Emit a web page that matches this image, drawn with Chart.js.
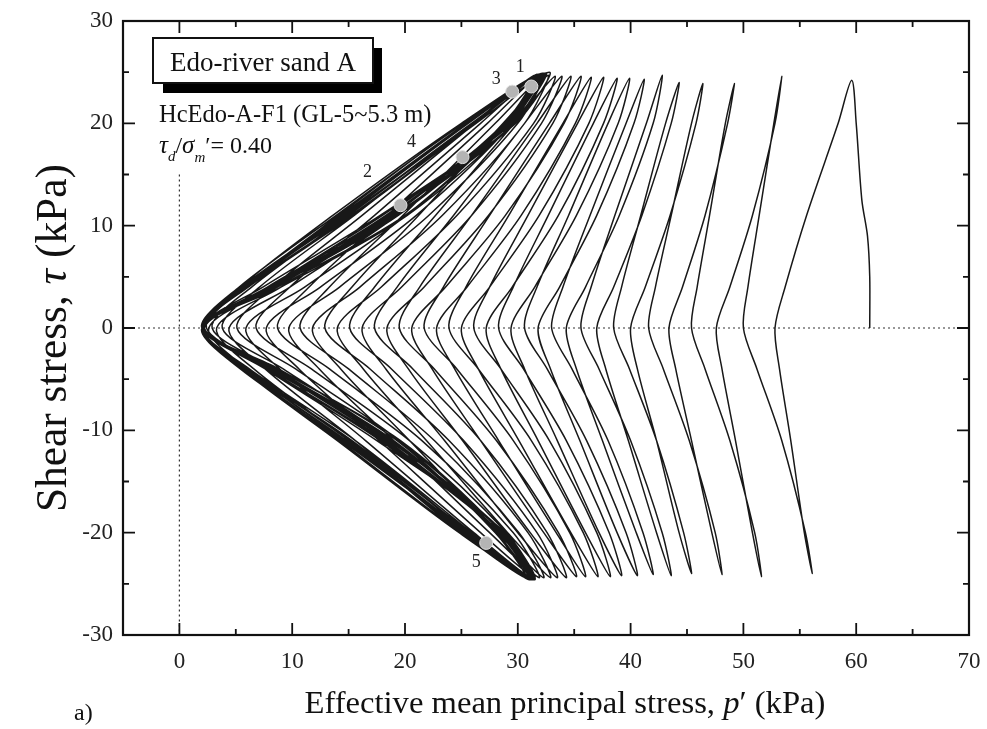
<!DOCTYPE html>
<html>
<head>
<meta charset="utf-8">
<script src="https://cdn.jsdelivr.net/npm/chart.js@4.4.1/dist/chart.umd.min.js"></script>
<style>
  html, body { margin: 0; padding: 0; background: #fff; }
  #wrap { width: 987px; height: 729px; }
</style>
</head>
<body>
<div id="wrap"><canvas id="stress-path-chart" width="987" height="729"></canvas></div>
<script>
// first loading, p' and tau (kPa)
const initP = [61.2, 61.2, 61.0, 60.5, 60.0, 59.6]
const initTau = [0, 5, 9, 12.5, 20, 24.2]

// each half cycle: p' read at tau = +-20, +-11, +-4, 0, -+4, -+11, -+20, then end peak p' and |tau| at that peak
// down half cycles start at the top peak, up half cycles at the bottom peak (they alternate)
const tauLevels = [20, 11, 4, 0, -4, -11, -20]

const earlyCycles = [
  [58.4, 55.6, 53.7, 52.8, 53.2, 54.2, 55.4, 56.1, 24.0],
  [55.5, 53.4, 51.2, 50.0, 50.4, 51.4, 52.7, 53.4, 24.6],
  [52.8, 50.8, 48.8, 47.6, 48.1, 49.3, 50.8, 51.6, 24.3],
  [51.0, 48.8, 46.6, 45.4, 45.9, 47.0, 48.4, 49.2, 23.9],
  [48.6, 46.6, 44.6, 43.4, 44.0, 45.4, 47.2, 48.1, 24.1],
  [47.5, 45.2, 42.9, 41.6, 42.2, 43.6, 45.4, 46.4, 23.9],
  [45.8, 43.5, 41.3, 40.0, 40.6, 42.3, 44.3, 45.4, 24.0],
  [44.7, 42.3, 39.9, 38.5, 39.2, 40.9, 43.1, 44.3, 24.0],
  [43.6, 41.0, 38.5, 37.0, 37.8, 39.8, 42.3, 43.6, 24.2],
  [42.8, 40.0, 37.2, 35.6, 36.5, 38.6, 41.4, 42.8, 24.7]
]

const midCycles = [
  [42.0, 39.0, 36.0, 34.3, 35.2, 37.5, 40.5, 42.0, 24.1],
  [41.1, 38.0, 34.8, 33.0, 34.0, 36.4, 39.6, 41.2, 24.3],
  [40.3, 37.0, 33.7, 31.8, 32.9, 35.5, 38.8, 40.6, 24.2],
  [39.6, 36.1, 32.6, 30.6, 31.7, 34.5, 38.0, 39.9, 24.4],
  [38.9, 35.2, 31.5, 29.4, 30.6, 33.5, 37.2, 39.2, 24.2],
  [38.1, 34.3, 30.5, 28.3, 29.6, 32.7, 36.7, 38.8, 24.4],
  [37.6, 33.6, 29.5, 27.2, 28.5, 31.8, 36.0, 38.2, 24.3],
  [37.0, 32.8, 28.5, 26.1, 27.5, 30.9, 35.3, 37.6, 24.5],
  [36.3, 31.9, 27.5, 25.0, 26.5, 30.1, 34.7, 37.1, 24.3],
  [35.8, 31.2, 26.5, 23.9, 25.4, 29.2, 34.0, 36.5, 24.5],
  [35.1, 30.3, 25.5, 22.8, 24.4, 28.3, 33.4, 36.0, 24.3],
  [34.6, 29.6, 24.6, 21.7, 23.4, 27.5, 32.8, 35.6, 24.6],
  [34.1, 28.9, 23.6, 20.6, 22.4, 26.7, 32.3, 35.2, 24.3],
  [33.6, 28.1, 22.6, 19.5, 21.3, 25.9, 31.7, 34.7, 24.6],
  [33.1, 27.4, 21.7, 18.4, 20.3, 25.1, 31.1, 34.3, 24.4],
  [32.6, 26.7, 20.7, 17.3, 19.3, 24.3, 30.6, 33.9, 24.6],
  [32.1, 25.9, 19.7, 16.2, 18.3, 23.5, 30.0, 33.5, 24.4],
  [31.7, 25.2, 18.8, 15.1, 17.3, 22.7, 29.7, 33.3, 24.6],
  [31.4, 24.6, 17.9, 14.0, 16.3, 21.9, 29.1, 32.9, 24.4],
  [30.9, 23.9, 16.9, 12.9, 15.3, 21.2, 28.7, 32.7, 24.7],
  [30.6, 23.3, 16.0, 11.8, 14.3, 20.4, 28.2, 32.3, 24.4],
  [30.1, 22.6, 15.0, 10.7, 13.3, 19.8, 28.0, 32.3, 24.7]
]

const lateCycles = [
  [30.0, 22.1, 14.2, 9.7, 12.4, 19.0, 27.5, 31.9, 24.4],
  [29.6, 21.5, 13.3, 8.7, 11.5, 18.4, 27.3, 31.9, 24.7],
  [29.5, 21.0, 12.5, 7.7, 10.6, 17.7, 26.7, 31.5, 24.4],
  [29.0, 20.4, 11.7, 6.8, 9.8, 17.3, 26.7, 31.7, 24.7],
  [29.1, 20.1, 11.1, 5.9, 8.9, 16.5, 26.1, 31.2, 24.4],
  [28.6, 19.5, 10.3, 5.1, 8.3, 16.2, 26.2, 31.5, 24.7],
  [28.8, 19.3, 9.8, 4.4, 7.6, 15.6, 25.7, 31.0, 24.4],
  [28.3, 18.8, 9.2, 3.8, 7.1, 15.5, 26.0, 31.6, 24.7],
  [28.8, 18.9, 9.0, 3.3, 6.6, 15.0, 25.5, 31.1, 24.4],
  [28.3, 18.4, 8.5, 2.9, 6.4, 15.0, 26.0, 31.8, 24.8],
  [28.9, 18.7, 8.4, 2.6, 6.0, 14.6, 25.5, 31.2, 24.5],
  [28.3, 18.2, 8.2, 2.4, 5.9, 14.8, 26.1, 32.0, 24.8],
  [29.0, 18.6, 8.2, 2.2, 5.7, 14.4, 25.5, 31.3, 24.5],
  [28.6, 19.6, 8.6, 2.1, 5.4, 13.6, 25.0, 32.2, 24.9],
  [29.5, 17.8, 7.4, 2.0, 5.9, 15.3, 25.6, 31.0, 24.6],
  [28.4, 18.9, 8.3, 2.2, 6.0, 15.2, 26.3, 32.5, 24.9],
  [29.6, 20.2, 9.0, 2.0, 5.5, 14.0, 24.8, 31.4, 24.6],
  [28.9, 17.5, 7.6, 2.1, 5.7, 14.3, 25.4, 31.9, 24.8],
  [29.0, 18.3, 8.0, 2.1, 6.2, 15.6, 25.9, 30.8, 24.5],
  [28.0, 19.3, 8.8, 2.0, 5.3, 13.9, 25.2, 32.8, 25.0],
  [29.8, 19.0, 8.1, 2.2, 5.8, 14.8, 25.2, 31.2, 24.6],
  [28.5, 18.0, 7.8, 2.0, 5.6, 14.6, 25.6, 32.0, 24.8],
  [29.2, 20.0, 8.7, 2.1, 6.0, 15.0, 25.0, 31.3, 24.5],
  [28.7, 18.6, 8.0, 2.1, 5.8, 14.1, 25.1, 32.4, 24.9],
  [29.4, 18.0, 7.9, 2.0, 5.4, 14.5, 25.4, 31.0, 24.6],
  [28.1, 19.0, 8.4, 2.2, 6.1, 15.4, 26.2, 31.7, 24.8],
  [29.0, 19.4, 8.5, 2.1, 5.6, 14.2, 24.9, 30.9, 24.5],
  [28.4, 17.8, 7.7, 2.0, 5.5, 14.5, 25.5, 32.3, 24.9],
  [29.7, 18.5, 7.8, 2.1, 6.1, 15.1, 25.8, 31.5, 24.6],
  [28.8, 18.8, 8.1, 2.1, 5.7, 14.9, 25.9, 32.1, 24.8],
  [29.3, 19.2, 8.3, 2.2, 5.9, 14.7, 25.3, 31.1, 24.5]
]

// marked states 1..5 on the path
const markerLabels = ['1', '2', '3', '4', '5']
const markerP = [31.2, 19.6, 29.5, 25.1, 27.2]
const markerTau = [23.6, 12.0, 23.1, 16.7, -21.0]

// dotted reference lines
const zeroTauLine = [[-5, 0], [70, 0]]
const zeroPLine = [[0, 15], [0, -30]]

const serif = "'Liberation Serif', 'Times New Roman', serif"

let pathPoints = initP.map((p, i) => ({x: p, y: initTau[i]}))
earlyCycles.concat(midCycles, lateCycles).forEach((row, k) => {
  let s = k % 2 === 0 ? 1 : -1
  tauLevels.forEach((t, j) => pathPoints.push({x: row[j], y: s * t}))
  pathPoints.push({x: row[7], y: -s * row[8]})
})

let markerPoints = markerP.map((p, i) => ({x: p, y: markerTau[i]}))
let labelOffsets = [[-11, -19], [-33, -33], [-16, -12], [-51, -15], [-10, 19]]

// text fitted to a given width, centred on cx
function richText(ctx, parts, cx, baseY, size, width) {
  const fontOf = p => `${p.italic ? 'italic ' : ''}${size}px ${serif}`
  let w = 0
  parts.forEach(p => { ctx.font = fontOf(p); w += ctx.measureText(p.text).width })
  if (width) {
    size = size * width / w
    w = width
  }
  let xx = cx - w / 2
  parts.forEach(p => {
    ctx.font = fontOf(p)
    ctx.fillText(p.text, xx, baseY)
    xx += ctx.measureText(p.text).width
  })
}

const framePlugin = {
  id: 'frame',
  afterDraw(chart) {
    const {ctx, chartArea: a, scales: {x, y}} = chart
    ctx.save()

    // ticks pointing inwards on all four sides
    ctx.strokeStyle = '#111'
    ctx.lineWidth = 1.8
    ctx.beginPath()
    x.ticks.forEach(t => {
      if (t.value <= x.min || t.value >= x.max) return
      let px = x.getPixelForValue(t.value)
      let len = t.value % 10 === 0 ? 12 : 6
      ctx.moveTo(px, a.bottom); ctx.lineTo(px, a.bottom - len)
      ctx.moveTo(px, a.top); ctx.lineTo(px, a.top + len)
    })
    y.ticks.forEach(t => {
      if (t.value <= y.min || t.value >= y.max) return
      let py = y.getPixelForValue(t.value)
      let len = t.value % 10 === 0 ? 12 : 6
      ctx.moveTo(a.left, py); ctx.lineTo(a.left + len, py)
      ctx.moveTo(a.right, py); ctx.lineTo(a.right - len, py)
    })
    ctx.stroke()
    ctx.lineWidth = 2.2
    ctx.strokeRect(a.left, a.top, a.right - a.left, a.bottom - a.top)

    // marker numbers
    ctx.fillStyle = '#222'
    ctx.font = `18px ${serif}`
    ctx.textAlign = 'center'
    ctx.textBaseline = 'middle'
    markerLabels.forEach((lab, i) => {
      let px = x.getPixelForValue(markerP[i]) + labelOffsets[i][0]
      let py = y.getPixelForValue(markerTau[i]) + labelOffsets[i][1]
      ctx.fillText(lab, px, py)
    })

    // title box with shadow
    ctx.fillStyle = '#000'
    ctx.fillRect(163, 48, 219, 45)
    ctx.fillStyle = '#fff'
    ctx.fillRect(153, 38, 220, 45)
    ctx.lineWidth = 2
    ctx.strokeRect(153, 38, 220, 45)
    ctx.fillStyle = '#111'
    ctx.textAlign = 'left'
    ctx.textBaseline = 'alphabetic'
    ctx.font = `27px ${serif}`
    ctx.fillText('Edo-river sand A', 170, 71)

    ctx.font = `24.5px ${serif}`
    ctx.fillText('HcEdo-A-F1 (GL-5~5.3 m)', 159, 122)

    let tx = 159
    const seg = (text, font, dy) => {
      ctx.font = font
      ctx.fillText(text, tx, 153 + dy)
      tx += ctx.measureText(text).width
    }
    seg('\u03c4', `italic 25px ${serif}`, 0)
    seg('d', `italic 15px ${serif}`, 8)
    seg('/', `24px ${serif}`, 0)
    seg('\u03c3', `italic 25px ${serif}`, 0)
    seg('m', `italic 15px ${serif}`, 9)
    seg('\u2032= 0.40', `24px ${serif}`, 0)

    // axis titles
    ctx.fillStyle = '#111'
    richText(ctx, [
      {text: 'Effective mean principal stress, '},
      {text: 'p', italic: true},
      {text: '\u2032 (kPa)'}
    ], 565, 713, 32, 521)

    ctx.save()
    ctx.translate(66, 338)
    ctx.rotate(-Math.PI / 2)
    richText(ctx, [
      {text: 'Shear stress, '},
      {text: '\u03c4', italic: true},
      {text: ' (kPa)'}
    ], 0, 0, 40, 348)
    ctx.restore()

    ctx.font = `24px ${serif}`
    ctx.fillText('a)', 74, 720)
    ctx.restore()
  }
}

new Chart(document.querySelector('#stress-path-chart'), {
  type: 'scatter',
  data: {
    datasets: [{
      data: markerPoints,
      showLine: false,
      pointRadius: 6.5,
      pointBackgroundColor: '#b4b4b4',
      pointBorderColor: '#e0e0e0',
      pointBorderWidth: 1,
      order: 0
    }, {
      data: pathPoints,
      showLine: true,
      borderColor: '#181818',
      borderWidth: 1.5,
      tension: 0.3,
      pointRadius: 0,
      order: 1
    }, {
      data: zeroTauLine.map(v => ({x: v[0], y: v[1]})),
      showLine: true,
      borderColor: '#333',
      borderWidth: 1.2,
      borderDash: [2, 3],
      pointRadius: 0,
      order: 2
    }, {
      data: zeroPLine.map(v => ({x: v[0], y: v[1]})),
      showLine: true,
      borderColor: '#333',
      borderWidth: 1.2,
      borderDash: [2, 3],
      pointRadius: 0,
      order: 2
    }]
  },
  options: {
    responsive: false,
    devicePixelRatio: 1,
    animation: false,
    layout: { padding: { left: 0, right: 18, top: 21, bottom: 0 } },
    plugins: { legend: { display: false }, tooltip: { enabled: false } },
    scales: {
      x: {
        type: 'linear',
        min: -5,
        max: 70,
        grid: { display: false, drawTicks: false },
        border: { display: false },
        ticks: {
          stepSize: 5,
          autoSkip: false,
          maxRotation: 0,
          padding: 13,
          color: '#222',
          font: { family: serif, size: 23 },
          callback: v => v % 10 === 0 ? String(v) : ''
        },
        afterFit: s => {
          s.height = 94
          s.paddingLeft = 0
          s.paddingRight = 0
        }
      },
      y: {
        type: 'linear',
        min: -30,
        max: 30,
        grid: { display: false, drawTicks: false },
        border: { display: false },
        ticks: {
          stepSize: 5,
          autoSkip: false,
          padding: 10,
          color: '#222',
          font: { family: serif, size: 23 },
          callback: v => v % 10 === 0 ? String(v) : ''
        },
        afterFit: s => {
          s.width = 123
          s.paddingTop = 0
          s.paddingBottom = 0
        }
      }
    }
  },
  plugins: [framePlugin]
})
</script>
</body>
</html>
